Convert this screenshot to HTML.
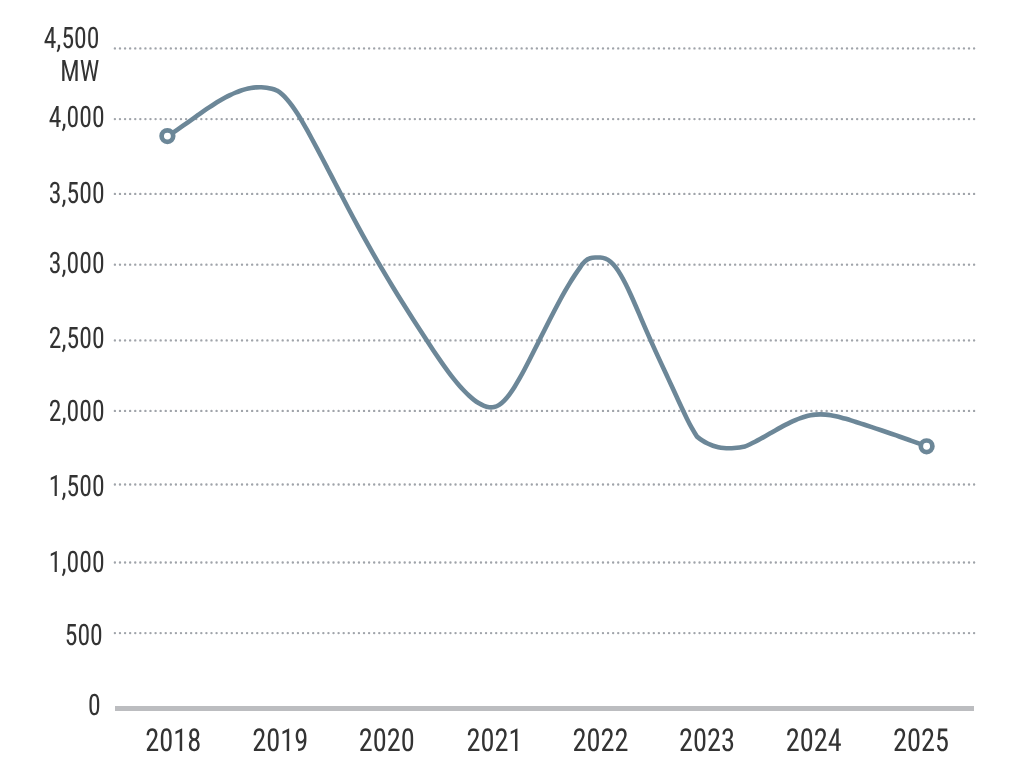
<!DOCTYPE html>
<html><head><meta charset="utf-8"><title>Chart</title>
<style>
html,body{margin:0;padding:0;background:#fff;}
body{width:1014px;height:771px;overflow:hidden;}
svg{display:block;will-change:transform;}
text{font-family:"Roboto Condensed","Liberation Sans",sans-serif;fill:#333;text-rendering:geometricPrecision;}
.y{font-size:29.5px;}
.x{font-size:31.5px;}
</style></head><body>
<svg width="1014" height="771" viewBox="0 0 1014 771">
<rect width="1014" height="771" fill="#fff"/>
<g stroke="#a0a4aa" stroke-width="2.4" stroke-linecap="round" stroke-dasharray="0.01 5.074" fill="none">
<line x1="114.9" y1="48.4" x2="974.2" y2="48.4"/>
<line x1="114.9" y1="119.1" x2="974.2" y2="119.1"/>
<line x1="114.9" y1="193.9" x2="974.2" y2="193.9"/>
<line x1="114.9" y1="264.65" x2="974.2" y2="264.65"/>
<line x1="114.9" y1="340.4" x2="974.2" y2="340.4"/>
<line x1="114.9" y1="410.9" x2="974.2" y2="410.9"/>
<line x1="114.9" y1="484.45" x2="974.2" y2="484.45"/>
<line x1="114.9" y1="562.5" x2="974.2" y2="562.5"/>
<line x1="114.9" y1="633.1" x2="974.2" y2="633.1"/>
</g>
<rect x="115" y="706" width="859" height="5" fill="#bcbdc0"/>
<g class="y" text-anchor="end">
<text x="99.45" y="47.8" textLength="55.734" lengthAdjust="spacingAndGlyphs">4,500</text>
<text x="99.2" y="80.85" textLength="38.946" lengthAdjust="spacingAndGlyphs">MW</text>
<text x="104.6" y="126.6" textLength="55.734" lengthAdjust="spacingAndGlyphs">4,000</text>
<text x="104.6" y="203.0" textLength="55.734" lengthAdjust="spacingAndGlyphs">3,500</text>
<text x="104.6" y="272.75" textLength="55.734" lengthAdjust="spacingAndGlyphs">3,000</text>
<text x="104.6" y="348.3" textLength="55.734" lengthAdjust="spacingAndGlyphs">2,500</text>
<text x="104.6" y="420.9" textLength="55.734" lengthAdjust="spacingAndGlyphs">2,000</text>
<text x="104.6" y="495.7" textLength="55.734" lengthAdjust="spacingAndGlyphs">1,500</text>
<text x="104.6" y="571.6" textLength="55.734" lengthAdjust="spacingAndGlyphs">1,000</text>
<text x="102.8" y="644.8" textLength="38.022" lengthAdjust="spacingAndGlyphs">500</text>
<text x="100.8" y="714.9" textLength="12.683" lengthAdjust="spacingAndGlyphs">0</text>
</g>
<g class="x" text-anchor="middle">
<text x="173.2" y="751.3" textLength="55.983" lengthAdjust="spacingAndGlyphs">2018</text>
<text x="280.25" y="751.3" textLength="55.983" lengthAdjust="spacingAndGlyphs">2019</text>
<text x="386.75" y="751.3" textLength="55.983" lengthAdjust="spacingAndGlyphs">2020</text>
<text x="494.4" y="751.3" textLength="55.983" lengthAdjust="spacingAndGlyphs">2021</text>
<text x="600.45" y="751.3" textLength="55.983" lengthAdjust="spacingAndGlyphs">2022</text>
<text x="706.9" y="751.3" textLength="55.983" lengthAdjust="spacingAndGlyphs">2023</text>
<text x="813.8" y="751.3" textLength="55.983" lengthAdjust="spacingAndGlyphs">2024</text>
<text x="920.95" y="751.3" textLength="55.983" lengthAdjust="spacingAndGlyphs">2025</text>
</g>
<path d="M167.40,136.10C169.14,135.03,170.88,133.92,172.62,132.78C174.36,131.65,176.10,130.48,177.84,129.30C179.58,128.11,181.32,126.91,183.06,125.69C184.80,124.48,186.54,123.25,188.28,122.01C190.02,120.78,191.76,119.54,193.50,118.30C195.23,117.06,196.97,115.83,198.71,114.60C200.45,113.38,202.19,112.16,203.93,110.96C205.67,109.76,207.41,108.57,209.15,107.41C210.89,106.25,212.63,105.12,214.37,104.02C216.11,102.91,217.85,101.84,219.59,100.81C221.33,99.77,223.07,98.78,224.81,97.83C226.55,96.88,228.29,95.98,230.03,95.13C231.77,94.28,233.51,93.48,235.25,92.75C236.99,92.02,238.73,91.34,240.47,90.74C242.21,90.13,243.95,89.60,245.69,89.13C247.43,88.67,249.17,88.29,250.90,87.99C252.64,87.68,254.38,87.46,256.12,87.34C257.86,87.21,259.60,87.17,261.34,87.23C263.08,87.29,264.82,87.44,266.56,87.71C268.30,87.97,270.04,88.34,271.78,88.82C273.52,89.30,275.26,89.89,277.00,90.60C278.68,91.54,280.37,92.77,282.05,94.25C283.73,95.72,285.42,97.45,287.10,99.39C288.78,101.33,290.47,103.48,292.15,105.80C293.83,108.13,295.52,110.63,297.20,113.26C298.88,115.90,300.57,118.68,302.25,121.55C303.93,124.43,305.62,127.41,307.30,130.45C308.98,133.49,310.67,136.60,312.35,139.73C314.03,142.86,315.72,146.02,317.40,149.19C319.08,152.37,320.77,155.57,322.45,158.78C324.13,161.98,325.82,165.21,327.50,168.44C329.18,171.67,330.87,174.91,332.55,178.15C334.23,181.39,335.92,184.63,337.60,187.87C339.28,191.11,340.97,194.34,342.65,197.56C344.33,200.79,346.02,204.00,347.70,207.20C349.38,210.40,351.07,213.58,352.75,216.74C354.43,219.90,356.12,223.04,357.80,226.15C359.48,229.26,361.17,232.34,362.85,235.39C364.53,238.44,366.22,241.47,367.90,244.46C369.58,247.45,371.27,250.42,372.95,253.36C374.63,256.30,376.32,259.21,378.00,262.10C379.68,264.99,381.37,267.86,383.05,270.70C384.73,273.54,386.42,276.36,388.10,279.15C389.78,281.95,391.47,284.73,393.15,287.48C394.83,290.24,396.52,292.97,398.20,295.69C399.88,298.41,401.57,301.11,403.25,303.79C404.93,306.48,406.62,309.15,408.30,311.80C409.98,314.45,411.67,317.09,413.35,319.71C415.03,322.34,416.72,324.95,418.40,327.55C420.08,330.15,421.77,332.74,423.45,335.32C425.13,337.90,426.82,340.47,428.50,343.03C430.18,345.59,431.87,348.13,433.55,350.65C435.23,353.17,436.92,355.66,438.60,358.11C440.28,360.57,441.97,362.98,443.65,365.35C445.33,367.72,447.02,370.03,448.70,372.28C450.38,374.54,452.07,376.72,453.75,378.84C455.43,380.95,457.12,382.99,458.80,384.95C460.48,386.90,462.17,388.77,463.85,390.53C465.53,392.30,467.22,393.97,468.90,395.52C470.58,397.08,472.27,398.51,473.95,399.82C475.63,401.13,477.32,402.30,479.00,403.33C480.68,404.35,482.37,405.23,484.05,405.92C485.73,406.60,487.42,407.09,489.10,407.30C490.78,407.51,492.47,407.46,494.15,407.06C495.83,406.66,497.52,405.90,499.20,404.80C500.88,403.70,502.57,402.26,504.25,400.54C505.93,398.82,507.62,396.81,509.30,394.57C510.98,392.33,512.67,389.86,514.35,387.20C516.03,384.54,517.72,381.71,519.40,378.74C521.08,375.77,522.77,372.67,524.45,369.49C526.13,366.31,527.82,363.05,529.50,359.76C531.18,356.47,532.87,353.15,534.55,349.80C536.23,346.46,537.92,343.10,539.60,339.74C541.28,336.38,542.97,333.02,544.65,329.68C546.33,326.33,548.02,323.01,549.70,319.71C551.38,316.42,553.07,313.15,554.75,309.94C556.43,306.73,558.12,303.57,559.80,300.47C561.48,297.37,563.17,294.35,564.85,291.40C566.53,288.45,568.22,285.59,569.90,282.83C571.58,280.07,573.27,277.41,574.95,274.86C576.63,272.32,578.32,269.89,580.00,267.60C581.70,264.69,583.39,262.63,585.09,261.16C586.78,259.70,588.48,258.83,590.17,258.31C591.87,257.79,593.57,257.61,595.26,257.53C596.96,257.45,598.65,257.42,600.35,257.57C602.04,257.71,603.74,258.04,605.43,258.69C607.13,259.33,608.83,260.29,610.52,261.71C612.22,263.13,613.91,264.98,615.61,267.20C617.30,269.42,619.00,272.01,620.70,274.88C622.39,277.76,624.09,280.92,625.78,284.29C627.48,287.67,629.17,291.25,630.87,294.98C632.57,298.70,634.26,302.56,635.96,306.48C637.65,310.41,639.35,314.39,641.04,318.35C642.74,322.32,644.43,326.26,646.13,330.14C647.83,334.01,649.52,337.83,651.22,341.61C652.91,345.39,654.61,349.13,656.30,352.84C658.00,356.54,659.70,360.22,661.39,363.89C663.09,367.55,664.78,371.20,666.48,374.84C668.17,378.49,669.87,382.13,671.57,385.78C673.26,389.43,674.96,393.09,676.65,396.77C678.35,400.45,680.04,404.15,681.74,407.79C683.43,411.42,685.13,415.00,686.83,418.42C688.52,421.85,690.22,425.13,691.91,428.19C693.61,431.25,695.30,434.08,697.00,436.60C698.78,438.06,700.56,439.37,702.33,440.52C704.11,441.67,705.89,442.67,707.67,443.54C709.44,444.40,711.22,445.13,713.00,445.74C714.78,446.35,716.56,446.83,718.33,447.21C720.11,447.59,721.89,447.86,723.67,448.04C725.44,448.21,727.22,448.29,729.00,448.29C730.78,448.30,732.56,448.22,734.33,448.07C736.11,447.92,737.89,447.71,739.67,447.44C741.44,447.18,743.22,446.86,745.00,446.50C746.68,445.80,748.36,445.04,750.04,444.25C751.73,443.45,753.41,442.61,755.09,441.75C756.77,440.88,758.45,439.98,760.13,439.05C761.81,438.13,763.50,437.19,765.18,436.23C766.86,435.28,768.54,434.31,770.22,433.35C771.90,432.38,773.59,431.42,775.27,430.46C776.95,429.50,778.63,428.55,780.31,427.63C781.99,426.70,783.67,425.79,785.36,424.91C787.04,424.04,788.72,423.19,790.40,422.38C792.08,421.58,793.76,420.81,795.44,420.09C797.13,419.38,798.81,418.71,800.49,418.11C802.17,417.51,803.85,416.96,805.53,416.49C807.21,416.02,808.90,415.62,810.58,415.30C812.26,414.98,813.94,414.75,815.62,414.60C817.30,414.45,818.99,414.39,820.67,414.40C822.35,414.41,824.03,414.50,825.71,414.64C827.39,414.79,829.07,415.00,830.76,415.27C832.44,415.53,834.12,415.85,835.80,416.21C837.48,416.57,839.16,416.97,840.84,417.41C842.53,417.84,844.21,418.31,845.89,418.80C847.57,419.30,849.25,419.81,850.93,420.34C852.61,420.86,854.30,421.40,855.98,421.94C857.66,422.48,859.34,423.02,861.02,423.57C862.70,424.11,864.39,424.66,866.07,425.21C867.75,425.76,869.43,426.32,871.11,426.88C872.79,427.43,874.47,427.99,876.16,428.56C877.84,429.12,879.52,429.68,881.20,430.25C882.88,430.82,884.56,431.39,886.24,431.97C887.93,432.54,889.61,433.12,891.29,433.70C892.97,434.28,894.65,434.86,896.33,435.45C898.01,436.03,899.70,436.62,901.38,437.21C903.06,437.80,904.74,438.40,906.42,439.00C908.10,439.59,909.79,440.19,911.47,440.80C913.15,441.40,914.83,442.00,916.51,442.61C918.19,443.22,919.87,443.83,921.56,444.45C923.24,445.06,924.92,445.68,926.60,446.30" fill="none" stroke="#6c8798" stroke-width="4.6" stroke-linecap="round" stroke-linejoin="round"/>
<circle cx="167.4" cy="136.1" r="5.8" fill="#fff" stroke="#6c8798" stroke-width="4.7"/>
<circle cx="926.6" cy="446.3" r="5.8" fill="#fff" stroke="#6c8798" stroke-width="4.7"/>
</svg>
</body></html>
